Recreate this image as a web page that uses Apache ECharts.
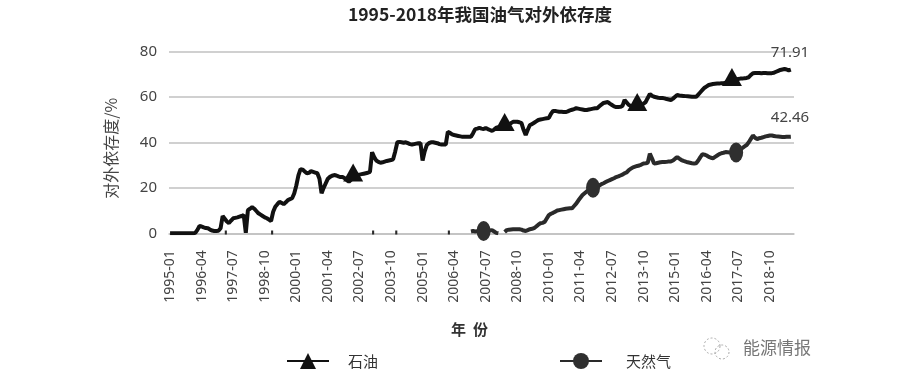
<!DOCTYPE html>
<html><head><meta charset="utf-8">
<style>html,body{margin:0;padding:0;background:#fff}#c{width:900px;height:377px;filter:blur(0.6px)}</style>
<script src="https://cdn.jsdelivr.net/npm/echarts@6/dist/echarts.min.js"></script>
</head><body><div id="c"></div>
<script>
const _ = null;
const titleText = '1995-2018年我国油气对外依存度';
const oilName = '石油', gasName = '天然气';
const startYear = 1995, monthCount = 297;
const oilValues = [
0,0,0,0,0,0,0,0,0,0,0,0,
0.2,1.5,3.2,3.0,2.6,2.3,2.2,1.6,1.2,1.0,1.0,1.1,
2.2,7.6,6.4,5.2,4.5,5.6,6.6,6.8,7.0,7.3,7.6,8.0,
0.2,10.2,10.8,11.5,10.8,9.8,8.8,8.2,7.6,7.0,6.6,6.0,
5.4,9.5,11.7,12.8,13.8,13.4,12.8,13.6,14.6,15.0,15.4,17.5,
21,25.5,28.2,28.0,27.2,26.4,26.6,27.3,27.0,26.7,26.4,24,
17.6,20,22,24,24.8,25.3,25.6,25.4,25,24.7,24.7,24.2,
23.4,22.7,23.5,25,25.4,25.6,25.8,26,26.2,26.4,26.6,27,
35.6,33.5,32,31.4,31,31.2,31.5,31.8,32,32.2,32.5,36,
40,40.2,40,39.8,40,39.6,39.2,39,39.2,39.4,39.6,39.6,
32,36,38.8,39.6,40,40,39.8,39.6,39.2,39,39,39,
44.6,44.2,43.5,43.2,43,42.8,42.6,42.4,42.4,42.4,42.4,42.4,
44,45.8,46,46.3,46,45.8,46.3,45.8,45.4,45,45.6,46.4,
46.6,46.8,47,47.2,47.4,47.8,48.4,49,49,49,48.8,48.4,
45.5,43.2,45.5,47.6,48,48.6,49.2,49.8,50,50.2,50.4,50.6,
50.7,52.5,53.8,53.8,53.6,53.4,53.4,53.3,53.3,53.6,54,54.3,
54.6,55,54.8,54.6,54.4,54.2,54.2,54.4,54.6,54.8,55,55,
55.8,56.6,57.3,57.5,57.7,57,56.4,55.8,55.5,55.5,55.6,56,
58.6,57.5,56.4,56,56,56,56,56.2,56.4,57,57.7,59.5,
61.2,60.5,60,59.8,59.6,59.5,59.5,59.3,59,58.8,58.6,59.2,
60,60.8,60.6,60.5,60.4,60.3,60.2,60.1,60,60,60,61,
62,63,64,64.6,65.2,65.4,65.6,65.7,65.8,65.8,66,66,
66.2,66.4,66.6,67,67.4,67.6,67.8,68,68,68.2,68.3,68.6,
69.6,70.4,70.5,70.5,70.5,70.4,70.5,70.5,70.4,70.4,70.4,70.6,
71,71.4,71.8,72,72.2,72,71.6,71.91];
const gasValues = [
_,_,_,_,_,_,_,_,_,_,_,_,
_,_,_,_,_,_,_,_,_,_,_,_,
_,_,.4,.4,_,_,_,_,_,_,_,_,
_,_,_,_,_,_,_,_,_,_,_,_,
.4,.4,_,_,_,_,_,_,_,_,_,_,
_,_,_,_,_,_,_,_,_,_,_,_,
_,_,_,_,_,_,_,_,_,_,_,_,
_,_,_,_,_,_,_,_,_,_,_,_,
.4,.4,_,_,_,_,_,_,_,_,_,.4,
.4,_,_,_,_,_,_,_,_,_,_,_,
_,_,_,_,_,_,_,_,_,_,_,_,
.4,.4,_,_,_,_,_,_,_,_,_,.8,
1,.8,.9,1,1,1,1,1,1.2,1.4,.8,.2,
0,_,_,.6,1.4,1.6,1.7,1.8,1.8,1.8,1.8,1.6,
1.2,1,1.4,1.8,2,2.3,3,3.8,4.4,4.6,5,6.5,
8,8.6,9,9.5,10,10.2,10.4,10.6,10.8,10.9,11,11,
12,13,14.4,15.6,16.8,17.6,18.4,19,19.4,20,20.4,20.6,
21,21.6,22,22.5,23,23.4,23.8,24.2,24.7,25,25.4,25.8,
26.4,26.8,27.8,28.4,29,29.3,29.6,29.8,30.2,30.7,30.8,31,
35,33,30.7,30.8,31,31.2,31.3,31.3,31.4,31.6,31.6,32,
32.8,33.5,32.8,32.2,31.8,31.5,31.2,31,30.8,30.7,30.8,32,
33.5,34.8,34.6,34.2,33.6,33.2,33,33.6,34.2,34.8,35.2,35.4,
35.7,35.6,35.5,35.5,35.5,35.5,36,36.8,37.5,38.2,38.8,40,
41.5,43,42,41.4,41.8,42,42.3,42.6,42.8,43,43,42.8,
42.6,42.5,42.4,42.3,42.3,42.4,42.4,42.46];
const oilMarkerMonths = [87,159,222,267];
const gasMarkerMonths = [149,201,269];

const categories = [];
for (let i = 0; i < monthCount; i++) {
  const y = startYear + Math.floor(i / 12), m = i % 12 + 1;
  categories.push(y + '-' + String(m).padStart(2, '0'));
}
const FONT = '"Noto Sans CJK SC","Noto Sans",sans-serif';
function build(values, markers) {
  return values.map((v, i) => markers.includes(i) ? { value: v } : { value: v, symbol: 'none' });
}
function endLabel(off) {
  return { show: true, offset: off, color: '#444', fontSize: 15, fontFamily: '"Noto Sans",sans-serif',
    formatter: p => p.value };
}
const chart = echarts.init(document.getElementById('c'), null, { renderer: 'canvas' });
chart.setOption({
  animation: false,
  backgroundColor: '#fff',
  title: { text: titleText, left: 475, top: 1, textAlign: 'center',
    textStyle: { fontSize: 17.5, fontWeight: 'bold', color: '#222', fontFamily: FONT } },
  grid: { left: 169, width: 625, top: 51.3, height: 182, containLabel: false },
  legend: [
    { data: [oilName], left: 281, top: 348, itemWidth: 42, itemHeight: 20, textStyle: { fontSize: 15, color: '#333', fontFamily: FONT, padding: [0, 0, 0, 14] } },
    { data: [gasName], left: 554, top: 348, itemWidth: 42, itemHeight: 20, textStyle: { fontSize: 15, color: '#333', fontFamily: FONT, padding: [0, 0, 0, 19] } }
  ],
  xAxis: { type: 'category', data: categories, boundaryGap: true,
    name: '年  份', nameLocation: 'middle', nameGap: 88,
    nameTextStyle: { fontSize: 15, color: '#333', fontFamily: FONT, fontWeight: 'bold', padding: [0, 24, 0, 0] },
    axisLine: { lineStyle: { color: '#c0c0c0', width: 1.5 } }, axisTick: { show: false },
    axisLabel: { interval: 14, rotate: 90, margin: 17, fontSize: 14, color: '#444', fontFamily: '"Noto Sans",sans-serif' } },
  yAxis: { type: 'value', min: 0, max: 80, interval: 20,
    name: '对外依存度/%', nameLocation: 'middle', nameGap: 50, nameRotate: 90,
    nameTextStyle: { fontSize: 16, color: '#444', fontFamily: FONT, padding: [0, 12, 0, 0] },
    axisLine: { show: false }, axisTick: { show: false },
    axisLabel: { margin: 12, fontSize: 15, color: '#444', fontFamily: '"Noto Sans",sans-serif' },
    splitLine: { lineStyle: { color: '#c0c0c0', width: 1.5 } } },
  series: [
    { name: oilName, type: 'line', symbol: 'triangle', symbolSize: [20, 18], symbolOffset: [0, -4], showAllSymbol: true,
      data: build(oilValues, oilMarkerMonths), lineStyle: { color: '#111', width: 4 }, itemStyle: { color: '#111' },
      endLabel: endLabel([-28, -17]) },
    { name: gasName, type: 'line', symbol: 'circle', symbolSize: [14, 20], showAllSymbol: true, connectNulls: false,
      data: build(gasValues, gasMarkerMonths), lineStyle: { color: '#2a2a2a', width: 4 }, itemStyle: { color: '#2f2f2f' },
      endLabel: endLabel([-28, -19]) }
  ],
  graphic: [
    { type: 'text', left: 743, top: 339, style: { text: '能源情报', fill: '#777', font: '17px ' + FONT } },
    { type: 'circle', shape: { cx: 712, cy: 346, r: 8 }, style: { fill: 'none', stroke: '#aaa', lineWidth: 1, lineDash: [2, 2] } },
    { type: 'circle', shape: { cx: 722, cy: 352, r: 7 }, style: { fill: 'none', stroke: '#aaa', lineWidth: 1, lineDash: [2, 2] } }
  ]
});
</script></body></html>
